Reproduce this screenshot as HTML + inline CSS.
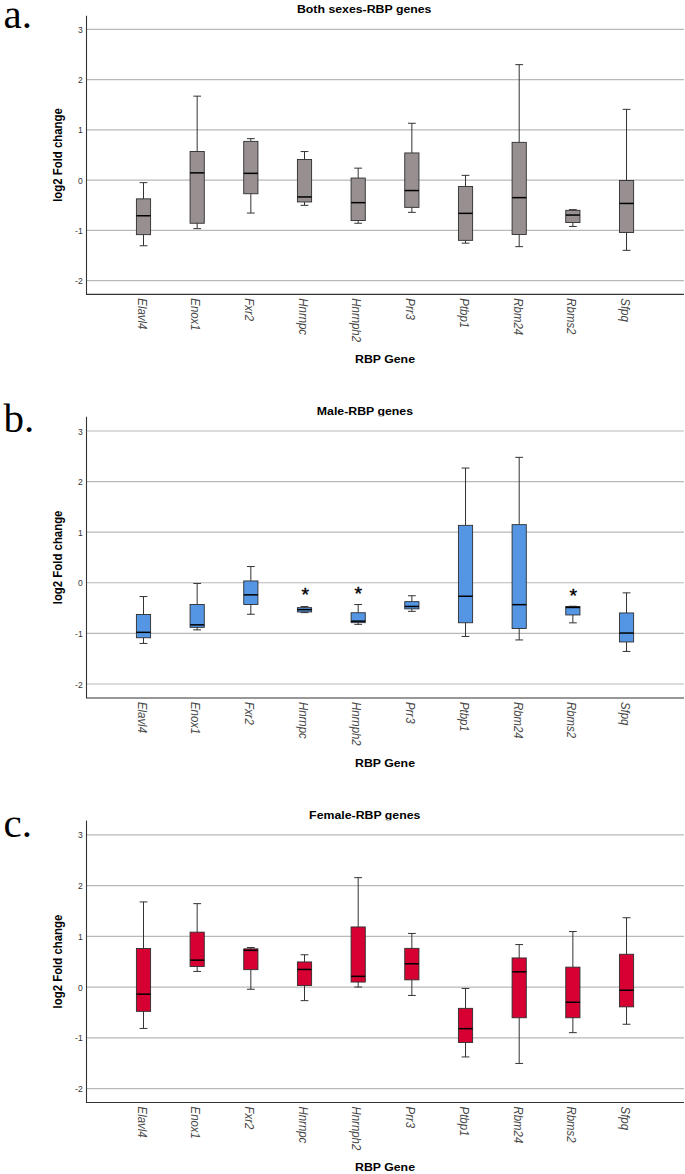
<!DOCTYPE html>
<html lang="en"><head><meta charset="utf-8"><title>RBP genes box plots</title>
<style>html,body{margin:0;padding:0;background:#fff}body{width:685px;height:1174px;overflow:hidden}svg{display:block}.s{font-family:"Liberation Sans",Arial,sans-serif}.b{font-weight:bold}.i{font-style:italic}.L{font-family:"Liberation Serif","Times New Roman",serif;font-size:41px;fill:#000}</style></head><body>
<svg width="685" height="1174" viewBox="0 0 685 1174">
<rect width="685" height="1174" fill="#fff"/>
<g id="panel-a">
<line x1="86.5" x2="684.0" y1="29.35" y2="29.35" stroke="#b9b9b9" stroke-width="1.15"/>
<line x1="86.5" x2="684.0" y1="79.60" y2="79.60" stroke="#b9b9b9" stroke-width="1.15"/>
<line x1="86.5" x2="684.0" y1="129.85" y2="129.85" stroke="#b9b9b9" stroke-width="1.15"/>
<line x1="86.5" x2="684.0" y1="180.10" y2="180.10" stroke="#b9b9b9" stroke-width="1.15"/>
<line x1="86.5" x2="684.0" y1="230.35" y2="230.35" stroke="#b9b9b9" stroke-width="1.15"/>
<line x1="86.5" x2="684.0" y1="280.60" y2="280.60" stroke="#b9b9b9" stroke-width="1.15"/>
<g stroke="#333" stroke-width="1" fill="none">
<path d="M143.50 182.65V198.85M143.50 234.65V245.75M139.60 182.65H147.40M139.60 245.75H147.40"/>
<rect x="136.40" y="198.85" width="14.2" height="35.80" fill="#989090" stroke="#2e2e2e" stroke-width="0.9"/>
<line x1="136.40" x2="150.60" y1="215.75" y2="215.75" stroke="#000" stroke-width="1.5"/>
</g>
<g stroke="#333" stroke-width="1" fill="none">
<path d="M197.17 96.15V151.45M197.17 223.25V228.65M193.27 96.15H201.07M193.27 228.65H201.07"/>
<rect x="190.07" y="151.45" width="14.2" height="71.80" fill="#989090" stroke="#2e2e2e" stroke-width="0.9"/>
<line x1="190.07" x2="204.27" y1="172.85" y2="172.85" stroke="#000" stroke-width="1.5"/>
</g>
<g stroke="#333" stroke-width="1" fill="none">
<path d="M250.84 138.65V141.35M250.84 193.75V213.05M246.94 138.65H254.74M246.94 213.05H254.74"/>
<rect x="243.74" y="141.35" width="14.2" height="52.40" fill="#989090" stroke="#2e2e2e" stroke-width="0.9"/>
<line x1="243.74" x2="257.94" y1="173.35" y2="173.35" stroke="#000" stroke-width="1.5"/>
</g>
<g stroke="#333" stroke-width="1" fill="none">
<path d="M304.51 151.55V159.45M304.51 201.95V205.35M300.61 151.55H308.41M300.61 205.35H308.41"/>
<rect x="297.41" y="159.45" width="14.2" height="42.50" fill="#989090" stroke="#2e2e2e" stroke-width="0.9"/>
<line x1="297.41" x2="311.61" y1="196.95" y2="196.95" stroke="#000" stroke-width="1.5"/>
</g>
<g stroke="#333" stroke-width="1" fill="none">
<path d="M358.18 168.15V178.05M358.18 220.55V223.25M354.28 168.15H362.08M354.28 223.25H362.08"/>
<rect x="351.08" y="178.05" width="14.2" height="42.50" fill="#989090" stroke="#2e2e2e" stroke-width="0.9"/>
<line x1="351.08" x2="365.28" y1="202.65" y2="202.65" stroke="#000" stroke-width="1.5"/>
</g>
<g stroke="#333" stroke-width="1" fill="none">
<path d="M411.85 123.25V152.95M411.85 207.35V212.35M407.95 123.25H415.75M407.95 212.35H415.75"/>
<rect x="404.75" y="152.95" width="14.2" height="54.40" fill="#989090" stroke="#2e2e2e" stroke-width="0.9"/>
<line x1="404.75" x2="418.95" y1="190.55" y2="190.55" stroke="#000" stroke-width="1.5"/>
</g>
<g stroke="#333" stroke-width="1" fill="none">
<path d="M465.52 175.35V186.55M465.52 240.35V243.15M461.62 175.35H469.42M461.62 243.15H469.42"/>
<rect x="458.42" y="186.55" width="14.2" height="53.80" fill="#989090" stroke="#2e2e2e" stroke-width="0.9"/>
<line x1="458.42" x2="472.62" y1="213.35" y2="213.35" stroke="#000" stroke-width="1.5"/>
</g>
<g stroke="#333" stroke-width="1" fill="none">
<path d="M519.19 64.65V142.35M519.19 234.45V246.65M515.29 64.65H523.09M515.29 246.65H523.09"/>
<rect x="512.09" y="142.35" width="14.2" height="92.10" fill="#989090" stroke="#2e2e2e" stroke-width="0.9"/>
<line x1="512.09" x2="526.29" y1="197.65" y2="197.65" stroke="#000" stroke-width="1.5"/>
</g>
<g stroke="#333" stroke-width="1" fill="none">
<path d="M572.86 209.65V210.35M572.86 222.55V226.45M568.96 209.65H576.76M568.96 226.45H576.76"/>
<rect x="565.76" y="210.35" width="14.2" height="12.20" fill="#989090" stroke="#2e2e2e" stroke-width="0.9"/>
<line x1="565.76" x2="579.96" y1="215.05" y2="215.05" stroke="#000" stroke-width="1.5"/>
</g>
<g stroke="#333" stroke-width="1" fill="none">
<path d="M626.53 109.35V180.55M626.53 232.45V250.35M622.63 109.35H630.43M622.63 250.35H630.43"/>
<rect x="619.43" y="180.55" width="14.2" height="51.90" fill="#989090" stroke="#2e2e2e" stroke-width="0.9"/>
<line x1="619.43" x2="633.63" y1="203.45" y2="203.45" stroke="#000" stroke-width="1.5"/>
</g>
<path d="M86.5 15.65V294.35H684.0" fill="none" stroke="#333" stroke-width="1.1"/>
<text class="s" font-size="9.2" fill="#333" text-anchor="end" transform="translate(82.7,32.95) scale(0.93,1)">3</text>
<text class="s" font-size="9.2" fill="#333" text-anchor="end" transform="translate(82.7,83.20) scale(0.93,1)">2</text>
<text class="s" font-size="9.2" fill="#333" text-anchor="end" transform="translate(82.7,133.45) scale(0.93,1)">1</text>
<text class="s" font-size="9.2" fill="#333" text-anchor="end" transform="translate(82.7,183.70) scale(0.93,1)">0</text>
<text class="s" font-size="9.2" fill="#333" text-anchor="end" transform="translate(82.7,233.95) scale(0.93,1)">-1</text>
<text class="s" font-size="9.2" fill="#333" text-anchor="end" transform="translate(82.7,284.20) scale(0.93,1)">-2</text>
<text class="s b" font-size="11.4" fill="#000" text-anchor="middle" transform="translate(62.4,155.00) scale(1.08,1) rotate(-90)">log2 Fold change</text>
<text class="s b" font-size="11.4" fill="#000" text-anchor="middle" transform="translate(364.2,12.6) scale(1.08,1)">Both sexes-RBP genes</text>
<text class="s i" font-size="11.4" fill="#484848" transform="translate(137.50,298.35) scale(1.18,1) rotate(90)">Elavl4</text>
<text class="s i" font-size="11.4" fill="#484848" transform="translate(191.24,298.35) scale(1.18,1) rotate(90)">Enox1</text>
<text class="s i" font-size="11.4" fill="#484848" transform="translate(244.98,298.35) scale(1.18,1) rotate(90)">Fxr2</text>
<text class="s i" font-size="11.4" fill="#484848" transform="translate(298.72,298.35) scale(1.18,1) rotate(90)">Hnrnpc</text>
<text class="s i" font-size="11.4" fill="#484848" transform="translate(352.46,298.35) scale(1.18,1) rotate(90)">Hnrnph2</text>
<text class="s i" font-size="11.4" fill="#484848" transform="translate(406.20,298.35) scale(1.18,1) rotate(90)">Prr3</text>
<text class="s i" font-size="11.4" fill="#484848" transform="translate(459.94,298.35) scale(1.18,1) rotate(90)">Ptbp1</text>
<text class="s i" font-size="11.4" fill="#484848" transform="translate(513.68,298.35) scale(1.18,1) rotate(90)">Rbm24</text>
<text class="s i" font-size="11.4" fill="#484848" transform="translate(567.42,298.35) scale(1.18,1) rotate(90)">Rbms2</text>
<text class="s i" font-size="11.4" fill="#484848" transform="translate(621.16,298.35) scale(1.18,1) rotate(90)">Sfpq</text>
<text class="s b" font-size="11.4" fill="#000" text-anchor="middle" transform="translate(385,363.25) scale(1.08,1)">RBP Gene</text>
<text class="L" x="3.6" y="28.2">a.</text>
</g>
<g id="panel-b">
<line x1="86.5" x2="684.0" y1="430.95" y2="430.95" stroke="#b9b9b9" stroke-width="1.15"/>
<line x1="86.5" x2="684.0" y1="481.55" y2="481.55" stroke="#b9b9b9" stroke-width="1.15"/>
<line x1="86.5" x2="684.0" y1="532.15" y2="532.15" stroke="#b9b9b9" stroke-width="1.15"/>
<line x1="86.5" x2="684.0" y1="582.75" y2="582.75" stroke="#b9b9b9" stroke-width="1.15"/>
<line x1="86.5" x2="684.0" y1="633.35" y2="633.35" stroke="#b9b9b9" stroke-width="1.15"/>
<line x1="86.5" x2="684.0" y1="683.95" y2="683.95" stroke="#b9b9b9" stroke-width="1.15"/>
<g stroke="#333" stroke-width="1" fill="none">
<path d="M143.50 596.55V614.45M143.50 637.75V643.45M139.60 596.55H147.40M139.60 643.45H147.40"/>
<rect x="136.40" y="614.45" width="14.2" height="23.30" fill="#5496E4" stroke="#2e2e2e" stroke-width="0.9"/>
<line x1="136.40" x2="150.60" y1="632.35" y2="632.35" stroke="#000" stroke-width="1.5"/>
</g>
<g stroke="#333" stroke-width="1" fill="none">
<path d="M197.17 583.45V604.55M197.17 627.35V629.85M193.27 583.45H201.07M193.27 629.85H201.07"/>
<rect x="190.07" y="604.55" width="14.2" height="22.80" fill="#5496E4" stroke="#2e2e2e" stroke-width="0.9"/>
<line x1="190.07" x2="204.27" y1="624.85" y2="624.85" stroke="#000" stroke-width="1.5"/>
</g>
<g stroke="#333" stroke-width="1" fill="none">
<path d="M250.84 566.55V580.95M250.84 604.55V614.25M246.94 566.55H254.74M246.94 614.25H254.74"/>
<rect x="243.74" y="580.95" width="14.2" height="23.60" fill="#5496E4" stroke="#2e2e2e" stroke-width="0.9"/>
<line x1="243.74" x2="257.94" y1="594.85" y2="594.85" stroke="#000" stroke-width="1.5"/>
</g>
<g stroke="#333" stroke-width="1" fill="none">
<path d="M304.51 606.55V607.65M304.51 611.95V612.65M300.61 606.55H308.41M300.61 612.65H308.41"/>
<rect x="297.41" y="607.65" width="14.2" height="4.30" fill="#5496E4" stroke="#2e2e2e" stroke-width="0.9"/>
<line x1="297.41" x2="311.61" y1="609.65" y2="609.65" stroke="#000" stroke-width="1.5"/>
</g>
<g stroke="#333" stroke-width="1" fill="none">
<path d="M358.18 604.55V612.75M358.18 622.65V624.35M354.28 604.55H362.08M354.28 624.35H362.08"/>
<rect x="351.08" y="612.75" width="14.2" height="9.90" fill="#5496E4" stroke="#2e2e2e" stroke-width="0.9"/>
<line x1="351.08" x2="365.28" y1="621.15" y2="621.15" stroke="#000" stroke-width="1.5"/>
</g>
<g stroke="#333" stroke-width="1" fill="none">
<path d="M411.85 595.75V601.65M411.85 608.85V611.35M407.95 595.75H415.75M407.95 611.35H415.75"/>
<rect x="404.75" y="601.65" width="14.2" height="7.20" fill="#5496E4" stroke="#2e2e2e" stroke-width="0.9"/>
<line x1="404.75" x2="418.95" y1="606.45" y2="606.45" stroke="#000" stroke-width="1.5"/>
</g>
<g stroke="#333" stroke-width="1" fill="none">
<path d="M465.52 468.05V525.35M465.52 622.75V636.45M461.62 468.05H469.42M461.62 636.45H469.42"/>
<rect x="458.42" y="525.35" width="14.2" height="97.40" fill="#5496E4" stroke="#2e2e2e" stroke-width="0.9"/>
<line x1="458.42" x2="472.62" y1="596.25" y2="596.25" stroke="#000" stroke-width="1.5"/>
</g>
<g stroke="#333" stroke-width="1" fill="none">
<path d="M519.19 457.35V524.65M519.19 628.45V639.95M515.29 457.35H523.09M515.29 639.95H523.09"/>
<rect x="512.09" y="524.65" width="14.2" height="103.80" fill="#5496E4" stroke="#2e2e2e" stroke-width="0.9"/>
<line x1="512.09" x2="526.29" y1="604.65" y2="604.65" stroke="#000" stroke-width="1.5"/>
</g>
<g stroke="#333" stroke-width="1" fill="none">
<path d="M572.86 606.25V606.55M572.86 614.95V622.85M568.96 606.25H576.76M568.96 622.85H576.76"/>
<rect x="565.76" y="606.55" width="14.2" height="8.40" fill="#5496E4" stroke="#2e2e2e" stroke-width="0.9"/>
<line x1="565.76" x2="579.96" y1="607.45" y2="607.45" stroke="#000" stroke-width="1.5"/>
</g>
<g stroke="#333" stroke-width="1" fill="none">
<path d="M626.53 592.85V612.95M626.53 641.95V651.45M622.63 592.85H630.43M622.63 651.45H630.43"/>
<rect x="619.43" y="612.95" width="14.2" height="29.00" fill="#5496E4" stroke="#2e2e2e" stroke-width="0.9"/>
<line x1="619.43" x2="633.63" y1="633.05" y2="633.05" stroke="#000" stroke-width="1.5"/>
</g>
<path d="M86.5 416.85V697.95H684.0" fill="none" stroke="#333" stroke-width="1.1"/>
<text class="s" font-size="9.2" fill="#333" text-anchor="end" transform="translate(82.7,434.55) scale(0.93,1)">3</text>
<text class="s" font-size="9.2" fill="#333" text-anchor="end" transform="translate(82.7,485.15) scale(0.93,1)">2</text>
<text class="s" font-size="9.2" fill="#333" text-anchor="end" transform="translate(82.7,535.75) scale(0.93,1)">1</text>
<text class="s" font-size="9.2" fill="#333" text-anchor="end" transform="translate(82.7,586.35) scale(0.93,1)">0</text>
<text class="s" font-size="9.2" fill="#333" text-anchor="end" transform="translate(82.7,636.95) scale(0.93,1)">-1</text>
<text class="s" font-size="9.2" fill="#333" text-anchor="end" transform="translate(82.7,687.55) scale(0.93,1)">-2</text>
<text class="s b" font-size="11.4" fill="#000" text-anchor="middle" transform="translate(62.4,557.40) scale(1.08,1) rotate(-90)">log2 Fold change</text>
<clipPath id="tc1"><rect x="0" y="386.3" width="685" height="30"/></clipPath>
<g clip-path="url(#tc1)">
<text class="s b" font-size="11.4" fill="#000" text-anchor="middle" transform="translate(364.9,415.2) scale(1.08,1)">Male-RBP genes</text>
</g>
<text class="s i" font-size="11.4" fill="#484848" transform="translate(137.50,701.95) scale(1.18,1) rotate(90)">Elavl4</text>
<text class="s i" font-size="11.4" fill="#484848" transform="translate(191.24,701.95) scale(1.18,1) rotate(90)">Enox1</text>
<text class="s i" font-size="11.4" fill="#484848" transform="translate(244.98,701.95) scale(1.18,1) rotate(90)">Fxr2</text>
<text class="s i" font-size="11.4" fill="#484848" transform="translate(298.72,701.95) scale(1.18,1) rotate(90)">Hnrnpc</text>
<text class="s i" font-size="11.4" fill="#484848" transform="translate(352.46,701.95) scale(1.18,1) rotate(90)">Hnrnph2</text>
<text class="s i" font-size="11.4" fill="#484848" transform="translate(406.20,701.95) scale(1.18,1) rotate(90)">Prr3</text>
<text class="s i" font-size="11.4" fill="#484848" transform="translate(459.94,701.95) scale(1.18,1) rotate(90)">Ptbp1</text>
<text class="s i" font-size="11.4" fill="#484848" transform="translate(513.68,701.95) scale(1.18,1) rotate(90)">Rbm24</text>
<text class="s i" font-size="11.4" fill="#484848" transform="translate(567.42,701.95) scale(1.18,1) rotate(90)">Rbms2</text>
<text class="s i" font-size="11.4" fill="#484848" transform="translate(621.16,701.95) scale(1.18,1) rotate(90)">Sfpq</text>
<text class="s b" font-size="11.4" fill="#000" text-anchor="middle" transform="translate(385,766.85) scale(1.08,1)">RBP Gene</text>
<text class="s" font-size="18" fill="#000" stroke="#000" stroke-width="0.4" text-anchor="middle" transform="translate(305.4,601.00) scale(1.08,1)">*</text>
<text class="s" font-size="18" fill="#000" stroke="#000" stroke-width="0.4" text-anchor="middle" transform="translate(358.3,600.30) scale(1.08,1)">*</text>
<text class="s" font-size="18" fill="#000" stroke="#000" stroke-width="0.4" text-anchor="middle" transform="translate(573.3,601.70) scale(1.08,1)">*</text>
<text class="L" x="3.6" y="432.2">b.</text>
</g>
<g id="panel-c">
<line x1="86.5" x2="684.0" y1="834.80" y2="834.80" stroke="#b9b9b9" stroke-width="1.15"/>
<line x1="86.5" x2="684.0" y1="885.55" y2="885.55" stroke="#b9b9b9" stroke-width="1.15"/>
<line x1="86.5" x2="684.0" y1="936.30" y2="936.30" stroke="#b9b9b9" stroke-width="1.15"/>
<line x1="86.5" x2="684.0" y1="987.05" y2="987.05" stroke="#b9b9b9" stroke-width="1.15"/>
<line x1="86.5" x2="684.0" y1="1037.80" y2="1037.80" stroke="#b9b9b9" stroke-width="1.15"/>
<line x1="86.5" x2="684.0" y1="1088.55" y2="1088.55" stroke="#b9b9b9" stroke-width="1.15"/>
<g stroke="#333" stroke-width="1" fill="none">
<path d="M143.50 901.95V948.55M143.50 1011.35V1028.45M139.60 901.95H147.40M139.60 1028.45H147.40"/>
<rect x="136.40" y="948.55" width="14.2" height="62.80" fill="#D60032" stroke="#2e2e2e" stroke-width="0.9"/>
<line x1="136.40" x2="150.60" y1="994.15" y2="994.15" stroke="#000" stroke-width="1.5"/>
</g>
<g stroke="#333" stroke-width="1" fill="none">
<path d="M197.17 903.65V932.15M197.17 966.45V971.45M193.27 903.65H201.07M193.27 971.45H201.07"/>
<rect x="190.07" y="932.15" width="14.2" height="34.30" fill="#D60032" stroke="#2e2e2e" stroke-width="0.9"/>
<line x1="190.07" x2="204.27" y1="960.15" y2="960.15" stroke="#000" stroke-width="1.5"/>
</g>
<g stroke="#333" stroke-width="1" fill="none">
<path d="M250.84 947.55V948.85M250.84 969.65V989.25M246.94 947.55H254.74M246.94 989.25H254.74"/>
<rect x="243.74" y="948.85" width="14.2" height="20.80" fill="#D60032" stroke="#2e2e2e" stroke-width="0.9"/>
<line x1="243.74" x2="257.94" y1="950.35" y2="950.35" stroke="#000" stroke-width="1.5"/>
</g>
<g stroke="#333" stroke-width="1" fill="none">
<path d="M304.51 954.75V961.95M304.51 985.55V1000.65M300.61 954.75H308.41M300.61 1000.65H308.41"/>
<rect x="297.41" y="961.95" width="14.2" height="23.60" fill="#D60032" stroke="#2e2e2e" stroke-width="0.9"/>
<line x1="297.41" x2="311.61" y1="969.45" y2="969.45" stroke="#000" stroke-width="1.5"/>
</g>
<g stroke="#333" stroke-width="1" fill="none">
<path d="M358.18 877.65V926.95M358.18 982.05V987.05M354.28 877.65H362.08M354.28 987.05H362.08"/>
<rect x="351.08" y="926.95" width="14.2" height="55.10" fill="#D60032" stroke="#2e2e2e" stroke-width="0.9"/>
<line x1="351.08" x2="365.28" y1="976.35" y2="976.35" stroke="#000" stroke-width="1.5"/>
</g>
<g stroke="#333" stroke-width="1" fill="none">
<path d="M411.85 933.45V948.35M411.85 979.85V995.45M407.95 933.45H415.75M407.95 995.45H415.75"/>
<rect x="404.75" y="948.35" width="14.2" height="31.50" fill="#D60032" stroke="#2e2e2e" stroke-width="0.9"/>
<line x1="404.75" x2="418.95" y1="963.75" y2="963.75" stroke="#000" stroke-width="1.5"/>
</g>
<g stroke="#333" stroke-width="1" fill="none">
<path d="M465.52 988.45V1008.35M465.52 1042.55V1056.95M461.62 988.45H469.42M461.62 1056.95H469.42"/>
<rect x="458.42" y="1008.35" width="14.2" height="34.20" fill="#D60032" stroke="#2e2e2e" stroke-width="0.9"/>
<line x1="458.42" x2="472.62" y1="1028.65" y2="1028.65" stroke="#000" stroke-width="1.5"/>
</g>
<g stroke="#333" stroke-width="1" fill="none">
<path d="M519.19 944.55V957.95M519.19 1017.75V1063.45M515.29 944.55H523.09M515.29 1063.45H523.09"/>
<rect x="512.09" y="957.95" width="14.2" height="59.80" fill="#D60032" stroke="#2e2e2e" stroke-width="0.9"/>
<line x1="512.09" x2="526.29" y1="971.85" y2="971.85" stroke="#000" stroke-width="1.5"/>
</g>
<g stroke="#333" stroke-width="1" fill="none">
<path d="M572.86 931.55V967.15M572.86 1017.75V1032.65M568.96 931.55H576.76M568.96 1032.65H576.76"/>
<rect x="565.76" y="967.15" width="14.2" height="50.60" fill="#D60032" stroke="#2e2e2e" stroke-width="0.9"/>
<line x1="565.76" x2="579.96" y1="1002.25" y2="1002.25" stroke="#000" stroke-width="1.5"/>
</g>
<g stroke="#333" stroke-width="1" fill="none">
<path d="M626.53 917.75V954.25M626.53 1006.85V1024.25M622.63 917.75H630.43M622.63 1024.25H630.43"/>
<rect x="619.43" y="954.25" width="14.2" height="52.60" fill="#D60032" stroke="#2e2e2e" stroke-width="0.9"/>
<line x1="619.43" x2="633.63" y1="990.25" y2="990.25" stroke="#000" stroke-width="1.5"/>
</g>
<path d="M86.5 820.55V1102.55H684.0" fill="none" stroke="#333" stroke-width="1.1"/>
<text class="s" font-size="9.2" fill="#333" text-anchor="end" transform="translate(82.7,838.40) scale(0.93,1)">3</text>
<text class="s" font-size="9.2" fill="#333" text-anchor="end" transform="translate(82.7,889.15) scale(0.93,1)">2</text>
<text class="s" font-size="9.2" fill="#333" text-anchor="end" transform="translate(82.7,939.90) scale(0.93,1)">1</text>
<text class="s" font-size="9.2" fill="#333" text-anchor="end" transform="translate(82.7,990.65) scale(0.93,1)">0</text>
<text class="s" font-size="9.2" fill="#333" text-anchor="end" transform="translate(82.7,1041.40) scale(0.93,1)">-1</text>
<text class="s" font-size="9.2" fill="#333" text-anchor="end" transform="translate(82.7,1092.15) scale(0.93,1)">-2</text>
<text class="s b" font-size="11.4" fill="#000" text-anchor="middle" transform="translate(62.4,961.55) scale(1.08,1) rotate(-90)">log2 Fold change</text>
<clipPath id="tc2"><rect x="0" y="790.3" width="685" height="30"/></clipPath>
<g clip-path="url(#tc2)">
<text class="s b" font-size="11.4" fill="#000" text-anchor="middle" transform="translate(364.75,819.2) scale(1.08,1)">Female-RBP genes</text>
</g>
<text class="s i" font-size="11.4" fill="#484848" transform="translate(137.50,1106.55) scale(1.18,1) rotate(90)">Elavl4</text>
<text class="s i" font-size="11.4" fill="#484848" transform="translate(191.24,1106.55) scale(1.18,1) rotate(90)">Enox1</text>
<text class="s i" font-size="11.4" fill="#484848" transform="translate(244.98,1106.55) scale(1.18,1) rotate(90)">Fxr2</text>
<text class="s i" font-size="11.4" fill="#484848" transform="translate(298.72,1106.55) scale(1.18,1) rotate(90)">Hnrnpc</text>
<text class="s i" font-size="11.4" fill="#484848" transform="translate(352.46,1106.55) scale(1.18,1) rotate(90)">Hnrnph2</text>
<text class="s i" font-size="11.4" fill="#484848" transform="translate(406.20,1106.55) scale(1.18,1) rotate(90)">Prr3</text>
<text class="s i" font-size="11.4" fill="#484848" transform="translate(459.94,1106.55) scale(1.18,1) rotate(90)">Ptbp1</text>
<text class="s i" font-size="11.4" fill="#484848" transform="translate(513.68,1106.55) scale(1.18,1) rotate(90)">Rbm24</text>
<text class="s i" font-size="11.4" fill="#484848" transform="translate(567.42,1106.55) scale(1.18,1) rotate(90)">Rbms2</text>
<text class="s i" font-size="11.4" fill="#484848" transform="translate(621.16,1106.55) scale(1.18,1) rotate(90)">Sfpq</text>
<text class="s b" font-size="11.4" fill="#000" text-anchor="middle" transform="translate(385,1171.45) scale(1.08,1)">RBP Gene</text>
<text class="L" x="3.6" y="836.7">c.</text>
</g>
</svg></body></html>
